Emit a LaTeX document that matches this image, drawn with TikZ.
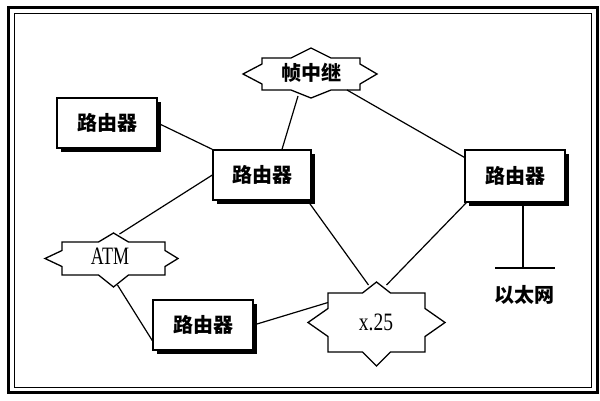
\documentclass[tikz,border=0pt]{standalone}
\usepackage{fontspec}
\usepackage{graphicx}
\usetikzlibrary{calc,shadows}
\newfontfamily\cjk{Noto Sans CJK SC}
\newfontfamily\tnr{Liberation Serif}
\newcommand{\starbox}[9]{%
 \draw[cloud] ($(#1)+(-#2,-#3)$) -- ($(#1)+(-#8,-#3)$) -- ($(#1)+(0,-#3-#4)$) coordinate (#1-t)
  -- ($(#1)+(#8,-#3)$) -- ($(#1)+(#2,-#3)$) -- ($(#1)+(#2,-#9)$) -- ($(#1)+(#2+#7,0)$) coordinate (#1-r)
  -- ($(#1)+(#2,#9)$) -- ($(#1)+(#2,#3)$) -- ($(#1)+(#8,#3)$) -- ($(#1)+(0,#3+#5)$) coordinate (#1-b)
  -- ($(#1)+(-#8,#3)$) -- ($(#1)+(-#2,#3)$) -- ($(#1)+(-#2,#9)$) -- ($(#1)+(-#2-#6,0)$) coordinate (#1-l)
  -- ($(#1)+(-#2,-#9)$) -- cycle;}
\begin{document}
\begin{tikzpicture}[x=1pt,y=-1pt,
  router/.style={draw, line width=1.3pt, fill=white, minimum width=100pt, minimum height=50pt,
    inner sep=0pt, font=\cjk\bfseries\fontsize{20}{24}\selectfont,
    drop shadow={shadow xshift=4pt, shadow yshift=-4pt, opacity=1, fill=black}},
  link/.style={line width=1.2pt},
  cloud/.style={draw, line width=1.3pt, fill=white, line join=miter},
  cjklabel/.style={font=\cjk\bfseries\fontsize{20}{24}\selectfont, inner sep=0pt},
  latlabel/.style={font=\tnr\fontsize{25}{28}\selectfont, inner sep=0pt}]
\useasboundingbox (0,0) rectangle (600,400);
\draw[line width=3pt] (8,7) rectangle (597,392);
\draw[line width=0.9pt] (14,13) rectangle (591,387);

% routers
\node[router] (r1) at (107,123) {路由器};
\node[router, minimum width=98pt] (r2) at (262,175) {路由器};
\node[router, minimum height=52pt] (r3) at (515,176) {路由器};
\node[router] (r4) at (203,325) {路由器};

% clouds
\coordinate (fr) at (311,74);
\coordinate (atm) at (113.5,258.5);
\coordinate (x25) at (376.5,322.5);
\starbox{fr}{49}{16}{10}{8}{19}{17}{20}{10}
\starbox{atm}{51.5}{16.5}{9}{12}{17}{13}{15}{8}
\starbox{x25}{48.5}{29.5}{11}{14}{20}{20}{14}{14}
\node[cjklabel] (frl) at (311,73) {帧中继};
\node[latlabel] (atml) at (110,256) {\scalebox{0.72}[1]{ATM}};
\node[latlabel] (x25l) at (376,322) {\scalebox{0.78}[1]{x.25}};

% connectors
\draw[link] (r1.east) -- (r2.north west);
\draw[link] ($(r2.north)+(20,0)$) -- ($(fr-b)+(-13,-2)$);
\draw[link] ($(fr)+(36,16)$) -- ($(r3.north west)+(0,8)$);
\draw[link] (r2.west) -- ($(atm-t)+(6,1)$);
\draw[link] ($(atm-b)+(4,-2)$) -- ($(r4.south west)+(0,-10)$);
\draw[link] (r4.east) -- ($(x25)+(-48.5,-20)$);
\draw[link] ($(r2.south east)+(-4,0)$) -- ($(x25-t)+(-8,3)$);
\draw[link] ($(r3.south west)+(2,0)$) -- ($(x25-t)+(10,3)$);

% ethernet
\coordinate (eth) at (523,268);
\draw[link] ($(r3.south)+(8,0)$) -- (eth);
\draw[link] ($(eth)+(-28,0)$) -- ($(eth)+(32,0)$);
\node[cjklabel] (ethl) at (524,295) {以太网};
\end{tikzpicture}
\end{document}
